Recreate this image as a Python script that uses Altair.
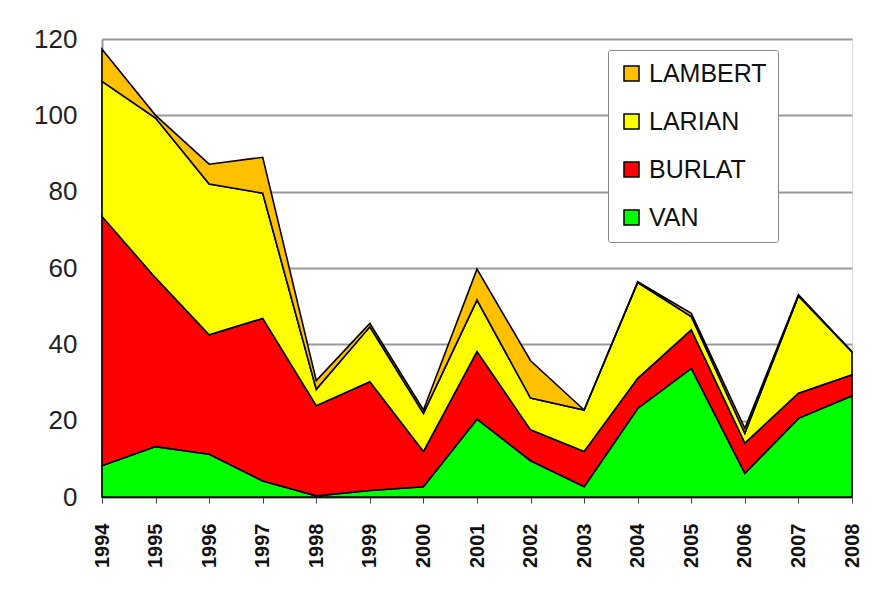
import altair as alt
import pandas as pd

years = list(range(1994, 2009))
series = ["VAN", "BURLAT", "LARIAN", "LAMBERT"]
van = [8.2, 13.2, 11.2, 4.2, 0.3, 1.7, 2.7, 20.4, 9.5, 2.7, 23.2, 33.7, 6.2, 20.6, 26.5]
burlat = [65.3, 44.2, 31.3, 42.6, 23.6, 28.5, 9.2, 17.7, 8.1, 9.2, 7.9, 10.1, 7.9, 6.6, 5.5]
larian = [35.4, 41.9, 39.5, 32.8, 4.3, 14.4, 10.0, 13.5, 8.3, 10.9, 25.1, 3.5, 2.6, 25.5, 6.0]
lambert = [8.4, 0.7, 5.2, 9.4, 2.3, 0.9, 0.9, 8.1, 9.8, 0.0, 0.2, 0.8, 1.3, 0.3, 0.1]

legend_order = ["LAMBERT", "LARIAN", "BURLAT", "VAN"]
colors = ["#ffc000", "#ffff00", "#ff0000", "#00ff00"]

rows = []
for name, vals in zip(series, [van, burlat, larian, lambert]):
    for y, v in zip(years, vals):
        rows.append({"year": y, "value": v, "series": name, "order": series.index(name)})
df = pd.DataFrame(rows)

FONT = "Liberation Sans"

chart = alt.Chart(df).mark_area(
    stroke="black", strokeWidth=1.6, strokeJoin="miter", opacity=1
).encode(
    x=alt.X("year:Q", scale=alt.Scale(domain=[1994, 2008], nice=False, zero=False),
            axis=alt.Axis(values=years, format="d", labelAngle=-90, title=None,
                          labelFontSize=20, labelFontWeight="bold", labelFont=FONT,
                          labelColor="#111", labelPadding=20, tickSize=6,
                          tickColor="#444", domainColor="#444", domainWidth=1.5,
                          grid=False, labelBaseline="middle", labelAlign="right")),
    y=alt.Y("value:Q", stack="zero", scale=alt.Scale(domain=[0, 120], nice=False),
            axis=alt.Axis(values=[0, 20, 40, 60, 80, 100, 120], title=None,
                          labelFontSize=26, labelFont=FONT, labelColor="#222",
                          ticks=False, labelPadding=25, domainColor="#999",
                          domainWidth=2, gridColor="#999", gridWidth=2)),
    color=alt.Color("series:N",
                    scale=alt.Scale(domain=legend_order, range=colors),
                    legend=alt.Legend(title=None, orient="none", legendX=506, legendY=11,
                                      symbolType="square", symbolSize=225,
                                      symbolStrokeColor="black", symbolStrokeWidth=1.5,
                                      symbolOpacity=1,
                                      labelFontSize=25, labelFont=FONT, labelColor="#111",
                                      labelOffset=5, rowPadding=22, padding=11,
                                      strokeColor="#888", fillColor="white",
                                      cornerRadius=2)),
    order=alt.Order("order:Q", sort="ascending"),
).properties(
    width=750, height=458,
    autosize=alt.AutoSizeParams(type="none"),
    padding={"left": 94, "top": 31, "right": 12, "bottom": 80},
).configure_view(
    stroke="#999", strokeWidth=2
).configure(background="white")

chart.save("out.html", embed_options={"renderer": "svg", "actions": False})
